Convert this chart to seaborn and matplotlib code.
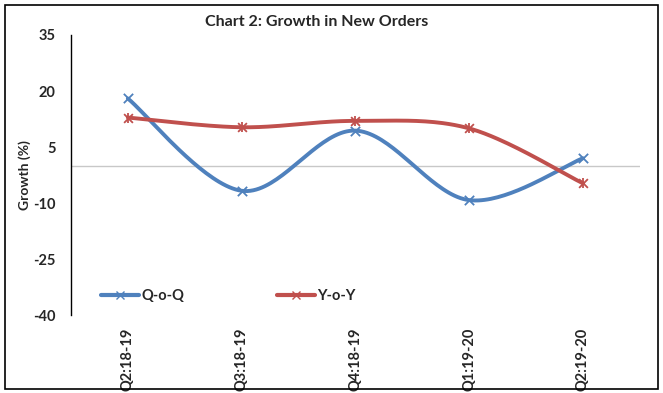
import numpy as np
import pandas as pd
import matplotlib
matplotlib.use("Agg")
import matplotlib.pyplot as plt
from matplotlib.lines import Line2D
from matplotlib.patches import Rectangle
import seaborn as sns

# chart data
quarters = ["Q2:18-19", "Q3:18-19", "Q4:18-19", "Q1:19-20", "Q2:19-20"]
qoq = [18.0, -6.7, 9.4, -9.2, 2.0]
yoy = [12.9, 10.3, 12.0, 10.0, -4.7]

blue = "#4F81BD"
red = "#C0504D"

sns.set_style("white")
plt.rcParams["font.family"] = ["Lato", "DejaVu Sans"]
plt.rcParams["font.weight"] = "bold"


def smooth(xs, ys, n=40):
    # excel style smoothed line (catmull-rom bezier between the points)
    pts = np.column_stack([xs, ys]).astype(float)
    out = []
    for i in range(len(pts) - 1):
        p0 = pts[i - 1] if i > 0 else pts[i]
        p1 = pts[i]
        p2 = pts[i + 1]
        p3 = pts[i + 2] if i + 2 < len(pts) else pts[i + 1]
        c1 = p1 + (p2 - p0) / 6
        c2 = p2 - (p3 - p1) / 6
        t = np.linspace(0, 1, n)[:, None]
        seg = ((1 - t) ** 3) * p1 + 3 * ((1 - t) ** 2) * t * c1 + 3 * (1 - t) * t ** 2 * c2 + t ** 3 * p2
        out.append(seg if i == 0 else seg[1:])
    seg = np.vstack(out)
    return seg[:, 0], seg[:, 1]


df = pd.DataFrame({"pos": np.arange(len(quarters)), "Q-o-Q": qoq, "Y-o-Y": yoy})

fig = plt.figure(figsize=(6.63, 3.93), dpi=100)
ax = fig.add_axes([0.107, 0.198, 0.858, 0.713])

for col, color in [("Q-o-Q", blue), ("Y-o-Y", red)]:
    sx, sy = smooth(df["pos"], df[col])
    ax.plot(sx, sy, color=color, lw=2.8, solid_capstyle="round", zorder=3)

sns.scatterplot(x="pos", y="Q-o-Q", data=df, ax=ax, marker="x", s=45,
                color=blue, linewidth=1.3, zorder=4, legend=False)
sns.scatterplot(x="pos", y="Y-o-Y", data=df, ax=ax, marker="x", s=40,
                color=red, linewidth=1.3, zorder=4, legend=False)
sns.scatterplot(x="pos", y="Y-o-Y", data=df, ax=ax, marker="|", s=50,
                color=red, linewidth=1.3, zorder=4, legend=False)

ax.axhline(0, color="#C8C8C8", lw=1, zorder=1)

ax.set_xlim(-0.5, len(quarters) - 0.5)
ax.set_ylim(-40, 35)
ax.set_yticks([35, 20, 5, -10, -25, -40])
ax.set_yticklabels(["35", "20", "5", "-10", "-25", "-40"], fontsize=10.5, fontweight="bold")
ax.set_xticks(df["pos"])
ax.set_xticklabels(quarters, rotation=90, fontsize=10.5, fontweight="bold")
ax.tick_params(axis="both", length=0)
ax.tick_params(axis="x", pad=9)
ax.tick_params(axis="y", pad=11)
ax.set_xlabel("")
ax.set_ylabel("Growth (%)", fontsize=10, fontweight="bold", labelpad=1.5)

for side in ["top", "right", "bottom"]:
    ax.spines[side].set_visible(False)
ax.spines["left"].set_color("black")
ax.spines["left"].set_linewidth(1)

fig.text(0.478, 0.945, "Chart 2: Growth in New Orders", ha="center", va="center",
         fontsize=11.5, fontweight="bold")

handles = [
    Line2D([0], [0], color=blue, lw=3, marker="x", markersize=6),
    Line2D([0], [0], color=red, lw=3, marker="x", markersize=6),
]
ax.legend(handles, ["Q-o-Q", "Y-o-Y"], loc="lower left", bbox_to_anchor=(0.03, -0.005),
          ncol=2, frameon=False, handlelength=2.6, handletextpad=0.2,
          columnspacing=6.3, prop={"weight": "bold", "size": 10.5})

fig.patches.append(Rectangle((0.008, 0.01), 0.984, 0.978, transform=fig.transFigure,
                             fill=False, edgecolor="black", lw=1.2))

fig.savefig("out.png", dpi=100)
plt.close(fig)
